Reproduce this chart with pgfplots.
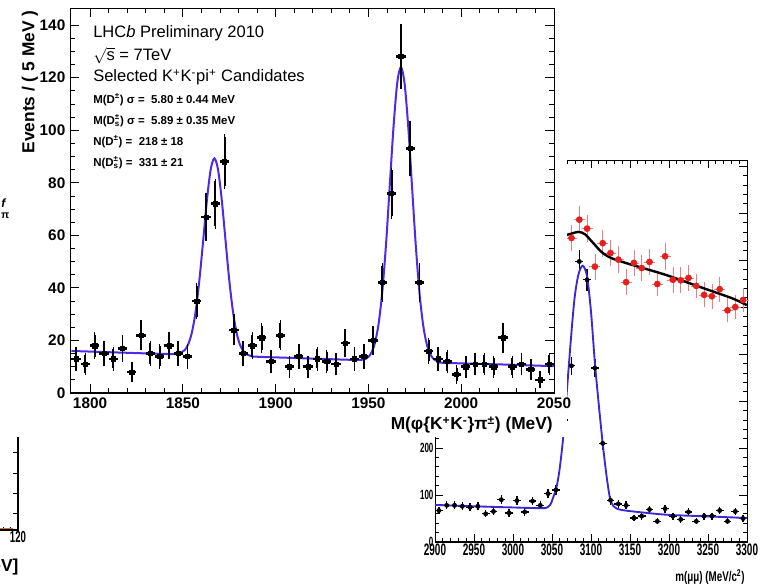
\documentclass[border=0pt]{standalone}
\usepackage{fontspec}
\setmainfont{Liberation Sans}
\newfontfamily\narrowfont[FakeStretch=0.7]{Liberation Sans}
\newfontfamily\slimfont[FakeStretch=0.6]{Liberation Sans}
\usepackage{pgfplots}
\usepackage{pgfplotstable}
\pgfplotsset{compat=1.18}

\definecolor{fitblue}{RGB}{80,40,235}
\definecolor{jblue}{RGB}{60,40,210}
\definecolor{rpt}{RGB}{230,30,30}
\definecolor{rerr}{RGB}{238,125,125}
\definecolor{frag}{RGB}{200,120,40}

% D+ / Ds -> phi pi, 5 MeV bins
\pgfplotstableread{
x y ex ey
1792.5 13 2.5 3.6
1797.5 11 2.5 3.3
1802.5 18 2.5 4.2
1807.5 15 2.5 3.9
1812.5 13 2.5 3.6
1817.5 17 2.5 4.1
1822.5 8 2.5 2.8
1827.5 22 2.5 4.7
1832.5 15 2.5 3.9
1837.5 14 2.5 3.7
1842.5 18 2.5 4.2
1847.5 15 2.5 3.9
1852.5 14 2.5 3.7
1857.5 35 2.5 5.9
1862.5 67 2.5 8.2
1867.5 72 2.5 8.5
1872.5 88 2.5 9.4
1877.5 24 2.5 4.9
1882.5 15 2.5 3.9
1887.5 18 2.5 4.2
1892.5 21 2.5 4.6
1897.5 12 2.5 3.5
1902.5 22 2.5 4.7
1907.5 10 2.5 3.2
1912.5 14 2.5 3.7
1917.5 10 2.5 3.2
1922.5 13 2.5 3.6
1927.5 12 2.5 3.5
1932.5 11 2.5 3.3
1937.5 19 2.5 4.4
1942.5 13 2.5 3.6
1947.5 14 2.5 3.7
1952.5 20 2.5 4.5
1957.5 42 2.5 6.5
1962.5 76 2.5 8.7
1967.5 128 2.5 11.3
1972.5 93 2.5 9.6
1977.5 42 2.5 6.5
1982.5 16 2.5 4.0
1987.5 13 2.5 3.6
1992.5 12 2.5 3.5
1997.5 7 2.5 2.6
2002.5 10 2.5 3.2
2007.5 11 2.5 3.3
2012.5 11 2.5 3.3
2017.5 10 2.5 3.2
2022.5 21 2.5 4.6
2027.5 10 2.5 3.2
2032.5 11 2.5 3.3
2037.5 9 2.5 3.0
2042.5 5 2.5 2.2
2047.5 11 2.5 3.3
}\dkk

% fit curve, main panel
\pgfplotstableread{
x y
1790 16.0
1820 15.3
1845 14.8
1849 15.3
1851 16.3
1853 18.7
1855 23.4
1857 31.5
1859 43.5
1861 58.3
1863 73.5
1865 85.0
1867 89.3
1869 84.9
1871 73.3
1873 58.1
1875 43.1
1877 31.1
1879 22.8
1881 18.0
1883 15.6
1885 14.5
1887 14.0
1890 13.8
1920 13.1
1945 12.6
1949.5 13.5
1951.5 15.2
1953.5 19.0
1955.5 26.4
1957.5 38.8
1959.5 56.7
1961.5 78.9
1963.5 101.0
1965.5 117.8
1967.5 124.0
1969.5 117.7
1971.5 100.9
1973.5 78.6
1975.5 56.4
1977.5 38.3
1979.5 25.8
1981.5 18.4
1983.5 14.5
1985.5 12.7
1987.5 12.0
1990 11.5
2020 10.9
2050 10.2
}\dkkfit

% J/psi -> mu mu, 10 MeV bins
\pgfplotstableread{
x y ex ey
2905 67 5 8.2
2915 78 5 8.8
2925 78 5 8.8
2935 76 5 8.7
2945 74 5 8.6
2955 76 5 8.7
2965 60 5 7.7
2975 65 5 8.1
2985 90 5 9.5
2995 62 5 7.9
3005 88 5 9.4
3015 64 5 8.0
3025 87 5 9.3
3035 78 5 8.8
3045 103 5 10.1
3055 111 5 10.5
3065 260 5 16.1
3075 375 5 19.4
3085 597 5 24.4
3095 558 5 23.6
3105 370 5 19.2
3115 210 5 14.5
3125 89 5 9.4
3135 81 5 9.0
3145 78 5 8.8
3155 51 5 7.1
3165 55 5 7.4
3175 69 5 8.3
3185 44 5 6.6
3195 71 5 8.4
3205 55 5 7.4
3215 48 5 6.9
3225 64 5 8.0
3235 44 5 6.6
3245 55 5 7.4
3255 55 5 7.4
3265 67 5 8.2
3275 44 5 6.6
3285 65 5 8.1
3295 50 5 7.1
}\jpsi

\pgfplotstableread{
x y
2900 79
2950 76
3000 73.5
3035 72
3043 73
3048 80
3052 97
3056 118
3060 158
3064.5 225
3069 320
3074.5 437
3079 520
3084 570
3089.5 588
3095 565
3100 490
3105 381
3110 292
3115 210
3120 140
3124.5 92
3129 76
3133 71
3140 68
3154 65
3197 58
3250 54.5
3300 51
}\jpsifit

% red series behind the J/psi peak
\pgfplotstableread{
x y ex ey
3075 647 5 25
3085 686 5 26
3095 667 5 26
3105 586 5 24
3115 636 5 25
3125 615 5 25
3135 601 5 25
3145 553 5 24
3155 594 5 24
3165 583 5 24
3175 596 5 24
3185 549 5 23
3195 608 5 25
3205 558 5 24
3215 557 5 24
3225 562 5 24
3235 545 5 23
3245 526 5 23
3255 523 5 23
3265 538 5 23
3275 493 5 22
3285 500 5 22
3295 515 5 23
}\redpts

\pgfplotstableread{
x y
3060 650
3074.4 656
3083.7 660
3092.3 655
3103 636
3113.7 617
3126.5 604
3152.2 590
3194.9 569
3237.6 544
3280.4 519
3300 504
}\redfit

\begin{document}
\begin{tikzpicture}
\useasboundingbox (0,0) rectangle (573.75pt,437.25pt);
\clip (0,0) rectangle (573.75pt,437.25pt);

% fragment of a third panel at the left edge
\begin{axis}[
  at={(-225pt,39.75pt)}, anchor=south west,
  scale only axis, width=238.5pt, height=412.5pt,
  xmin=-92, xmax=120, ymin=0, ymax=550,
  xtick={-80,-60,...,120}, minor x tick num=3,
  ytick={17,37,57,78}, yticklabels={},
  tick align=inside, major tick length=4pt, minor tick length=2.5pt,
  axis line style={line width=1.5pt}, tick style={black, line width=0.6pt},
  xticklabel style={font=\slimfont\bfseries\fontsize{12}{13}\selectfont, inner sep=1pt},
  /pgf/number format/assume math mode=true,
  clip=false,
]
\addplot[frag, line width=0.8pt] coordinates {(-92,1.5) (117,1.5)};
\end{axis}
\node[anchor=east, inner sep=0pt, font=\bfseries\fontsize{13}{14}\selectfont] at (14pt,12pt) {[MeV]};
\node[inner sep=0pt, font=\bfseries\itshape\fontsize{9}{10}\selectfont] at (2.5pt,285pt) {f};
\node[inner sep=0pt, font=\bfseries\fontsize{8}{9}\selectfont] at (4pt,275.5pt) {π};

% J/psi panel, behind the main one
\begin{axis}[
  at={(326.25pt,30.75pt)}, anchor=south west,
  scale only axis, width=234pt, height=286.5pt,
  xmin=2900, xmax=3300, ymin=0, ymax=813,
  xtick={2900,2950,...,3300}, minor x tick num=4,
  ytick={0,100,...,800}, minor y tick num=4,
  tick align=inside, major tick length=6pt, minor tick length=3pt,
  axis line style={line width=0.6pt}, tick style={black, line width=0.5pt},
  xticklabel style={font=\slimfont\bfseries\fontsize{12.5}{13}\selectfont, inner sep=1pt, yshift=-0.5pt},
  yticklabel style={font=\slimfont\bfseries\fontsize{10}{11}\selectfont, inner sep=1pt},
  /pgf/number format/assume math mode=true,
  /pgf/number format/1000 sep={},
  clip=false,
]
\addplot[only marks, mark=*, mark size=1.6pt, black,
  error bars/.cd, x dir=both, x explicit, y dir=both, y explicit,
  error mark=none, error bar style={line width=1pt}]
  table[x=x, y=y, x error=ex, y error=ey] {\jpsi};
\addplot[jblue, line width=1.4pt, smooth, tension=0.5] table[x=x, y=y] {\jpsifit};
\addplot[only marks, mark=*, mark size=2.3pt, rpt,
  error bars/.cd, x dir=both, x explicit, y dir=both, y explicit,
  error mark=-, error mark options={rerr, mark size=1.2pt, line width=0.4pt},
  error bar style={rerr, line width=0.5pt}]
  table[x=x, y=y, x error=ex, y error=ey] {\redpts};
\addplot[black, line width=1.8pt, smooth] table[x=x, y=y] {\redfit};
\draw[line width=1.6pt] (rel axis cs:0,0) -- (rel axis cs:1,0);
\end{axis}
\node[anchor=east, inner sep=0pt, font=\narrowfont\bfseries\fontsize{10.5}{11}\selectfont] at (558.75pt,4.5pt) {m(μμ) (MeV/c\textsuperscript{2})};

% white paper of the main panel
\fill[white] (9pt,109.5pt) rectangle (425.25pt,437.25pt);

% main panel
\begin{axis}[
  at={(52.5pt,142.5pt)}, anchor=south west,
  scale only axis, width=363pt, height=288.75pt,
  xmin=1789.2, xmax=2050, ymin=0, ymax=146.5,
  xtick={1800,1850,...,2050}, minor x tick num=4,
  ytick={0,20,...,140}, minor y tick num=3,
  tick align=inside, major tick length=6.75pt, minor tick length=3.4pt,
  axis line style={line width=0.7pt}, tick style={black, line width=0.6pt},
  ticklabel style={font=\bfseries\fontsize{11.5}{12}\selectfont},
  /pgf/number format/assume math mode=true,
  /pgf/number format/1000 sep={},
  clip=false,
]
\addplot[fitblue, line width=1.5pt, smooth, tension=0.5] table[x=x, y=y] {\dkkfit};
\addplot[only marks, mark=square*, mark size=1.6pt, black,
  error bars/.cd, y dir=both, y explicit,
  error mark=-, error mark options={black, mark size=2pt, line width=1.1pt},
  error bar style={line width=1.4pt}]
  table[x=x, y=y, y error=ey] {\dkk};
\addplot[only marks, mark=square*, mark size=1.6pt, black, forget plot,
  error bars/.cd, x dir=both, x explicit,
  error mark=none, error bar style={line width=2pt}]
  table[x=x, y=y, x error=ex] {\dkk};
\draw[line width=2pt] (rel axis cs:0,0) -- (rel axis cs:1,0);
\end{axis}

\node[rotate=90, font=\bfseries\fontsize{13}{14}\selectfont] at (22.5pt,375.75pt) {Events / ( 5 MeV )};
\node[anchor=east, inner sep=0pt, font=\bfseries\fontsize{13}{14}\selectfont] at (414.75pt,118.5pt) {M(φ\{K\textsuperscript{+}K\textsuperscript{-}\}π\textsuperscript{±}) (MeV)};

\node[anchor=base west, inner sep=0pt, font=\fontsize{12.4}{13}\selectfont] at (69.75pt,408.75pt) {LHC\textit{b} Preliminary 2010};
\node[anchor=base west, inner sep=0pt, font=\fontsize{12.4}{13}\selectfont] at (69.75pt,391.5pt) {$\sqrt{\mbox{s}}$ = 7TeV};
\node[anchor=base west, inner sep=0pt, font=\fontsize{12.4}{13}\selectfont] at (69.75pt,375.75pt) {Selected K\textsuperscript{+}K\textsuperscript{-}pi\textsuperscript{+} Candidates};
\node[anchor=base west, inner sep=0pt, font=\bfseries\fontsize{8.6}{9}\selectfont] at (69.75pt,359.25pt) {M(D\textsuperscript{±}) σ =\ \ 5.80 ± 0.44 MeV};
\node[anchor=base west, inner sep=0pt, font=\bfseries\fontsize{8.6}{9}\selectfont] at (69.75pt,343.5pt) {M(D\rlap{\textsuperscript{±}}\textsubscript{s}) σ =\ \ 5.89 ± 0.35 MeV};
\node[anchor=base west, inner sep=0pt, font=\bfseries\fontsize{8.6}{9}\selectfont] at (69.75pt,327.75pt) {N(D\textsuperscript{±}) =\ \ 218 ± 18};
\node[anchor=base west, inner sep=0pt, font=\bfseries\fontsize{8.6}{9}\selectfont] at (69.75pt,312pt) {N(D\rlap{\textsuperscript{±}}\textsubscript{s}) =\ \ 331 ± 21};
\end{tikzpicture}
\end{document}
